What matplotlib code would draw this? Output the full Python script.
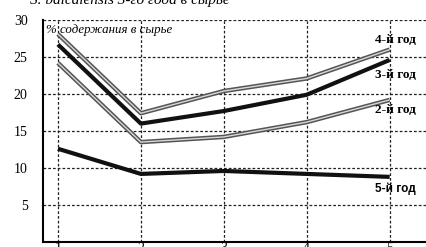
import numpy as np
import matplotlib.pyplot as plt

# годы выращивания и % содержания в сырье
x = [1, 2, 3, 4, 5]
god2 = [24.2, 13.5, 14.2, 16.2, 19.2]
god3 = [26.7, 16.0, 17.7, 19.9, 24.6]
god4 = [28.1, 17.4, 20.4, 22.1, 26.0]
god5 = [12.6, 9.2, 9.6, 9.2, 8.8]
yticks = [5, 10, 15, 20, 25, 30]
xticks = [1, 2, 3, 4, 5]

plt.rcParams['font.family'] = ['Liberation Serif', 'DejaVu Serif']

fig = plt.figure(figsize=(4.27, 2.47), dpi=100)
ax = fig.add_axes([43/427, 5/247, 1 - 43/427, 222/247])

# серые "двойные" линии
for y in (god4, god2):
    ax.plot(x, y, color='#555555', lw=3.2, solid_capstyle='butt', zorder=3)
    ax.plot(x, y, color='#d8d8d8', lw=1.0, solid_capstyle='butt', zorder=4)
# черные линии
for y in (god3, god5):
    ax.plot(x, y, color='#111111', lw=3.0, solid_capstyle='butt', zorder=3)

ax.set_xlim(0.82, 5.45)
ax.set_ylim(0, 30)
ax.set_xticks(xticks)
ax.set_yticks(yticks)
ax.grid(True, color='#222222', lw=0.9, linestyle=(0, (2.2, 1.6)))
ax.set_axisbelow(True)

for s in ['top', 'right']:
    ax.spines[s].set_visible(False)
ax.spines['left'].set_linewidth(1.5)
ax.spines['bottom'].set_linewidth(1.5)
ax.tick_params(axis='y', length=0, pad=11, labelsize=10)
ax.tick_params(axis='x', length=0, pad=0, labelsize=10)

ax.text(0.86, 29.4, '% содержания в сырье', style='italic', fontsize=9.3,
        va='top', ha='left')
ax.text(4.82, 27.3, '4-й год', fontsize=9.5, va='center', ha='left', fontweight='bold')
ax.text(4.82, 22.5, '3-й год', fontsize=9.5, va='center', ha='left', fontweight='bold')
ax.text(4.82, 17.8, '2-й год', fontsize=9.5, va='center', ha='left', fontweight='bold')
ax.text(4.82, 7.2, '5-й год', fontsize=8.5, va='center', ha='left',
        fontweight='bold', family=['Liberation Sans'])

fig.text(0.07, 1.0, 'S. baicalensis 3-го года в сырье', style='italic',
         fontsize=11, va='center', ha='left')

fig.savefig('out.png', dpi=100)
